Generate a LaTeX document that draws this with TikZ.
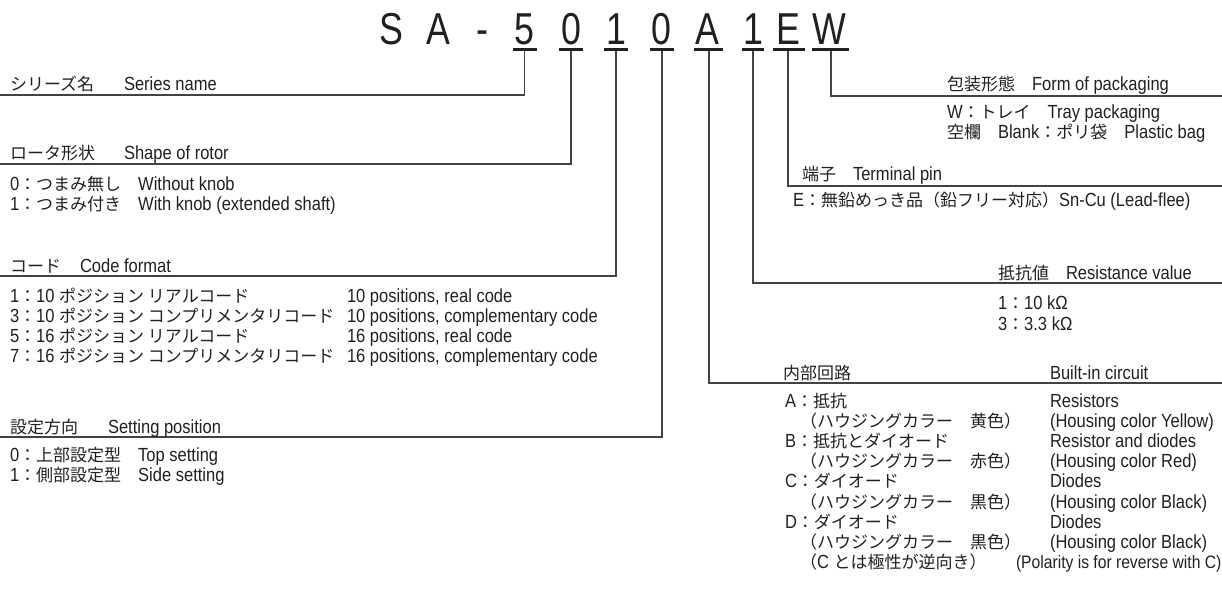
\documentclass[tikz,border=0pt]{standalone}
\usepackage{fontspec}
\setmainfont{Liberation Sans}[FakeStretch=0.87]
\newfontfamily\jpfont{Noto Sans CJK JP}
\newfontfamily\titlefont{Liberation Sans}[FakeStretch=0.8]
\definecolor{ink}{HTML}{231F20}
\newcommand\bodyfont{\fontsize{19pt}{21pt}\selectfont}
\newcommand\smallbody{\fontsize{18pt}{20pt}\selectfont}
\newcommand\jtxt[1]{{\jpfont\fontsize{17pt}{20pt}\selectfont #1}}
\begin{document}
\begin{tikzpicture}[x=1pt,y=-1pt,
  every node/.style={inner sep=0pt, outer sep=0pt, text=ink},
  tx/.style={anchor=base west, font=\bodyfont},
  tc/.style={anchor=base, font=\titlefont\fontsize{44.7pt}{46pt}\selectfont},
  ulbar/.style={rectangle, fill=ink, draw=none, minimum height=3pt, inner sep=0pt},
  conn/.style={draw=ink!85, line width=1.2pt},
]
\useasboundingbox (0,0) rectangle (1222,596);

% ---------- title ----------
\node[tc] (tS) at (391,45) {S};
\node[tc] (tA) at (438.5,45) {A};
\node[tc] (tD) at (482.5,45) {-};
\node[tc] (t5) at (524,45) {5};
\node[tc] (t0a) at (571,45) {0};
\node[tc] (t1a) at (616,45) {1};
\node[tc] (t0b) at (661.5,45) {0};
\node[tc] (tAb) at (707.5,45) {A};
\node[tc] (t1b) at (753,45) {1};
\node[tc] (tE) at (788,45) {E};
\node[tc] (tW) at (829.5,45) {W};

\node[ulbar, minimum width=24pt] (u5) at (525,50) {};
\node[ulbar, minimum width=24pt] (u0a) at (571,50) {};
\node[ulbar, minimum width=24pt] (u1a) at (616,50) {};
\node[ulbar, minimum width=24pt] (u0b) at (661.5,50) {};
\node[ulbar, minimum width=29pt] (uAb) at (708.5,50) {};
\node[ulbar, minimum width=22pt] (u1b) at (753,50) {};
\node[ulbar, minimum width=32pt] (uE) at (789,50) {};
\node[ulbar, minimum width=37pt] (uW) at (830.5,50) {};

% ---------- connector ends ----------
\coordinate (eS) at (0,95);
\coordinate (eR) at (0,164);
\coordinate (eC) at (0,276);
\coordinate (eP) at (0,437);
\coordinate (eW) at (1222,96);
\coordinate (eE) at (1222,186);
\coordinate (eV) at (1222,283);
\coordinate (eB) at (1222,383);

\draw[conn] ([xshift=-0.4pt]u5.south) |- (eS);
\draw[conn] (u0a.south) |- (eR);
\draw[conn] (u1a.south) |- (eC);
\draw[conn] ([xshift=0.5pt]u0b.south) |- (eP);
\draw[conn] ([xshift=0.5pt]uAb.south) |- (eB);
\draw[conn] (u1b.south) |- (eV);
\draw[conn] ([xshift=-1pt]uE.south) |- (eE);
\draw[conn] ([xshift=0.5pt]uW.south) |- (eW);

% ---------- left: series / rotor ----------
\node[tx] (hSj) at (10,91) {\jtxt{シリーズ名}};
\node[tx] (hSe) at (124,91) {Series name};
\node[tx] (hRj) at (10,160) {\jtxt{ロータ形状}};
\node[tx] (hRe) at (124,160) {Shape of rotor};
\node[tx] (r0) at (10,190) {0\jtxt{：つまみ無し　}Without knob};
\node[tx] (r1) at (10,210) {1\jtxt{：つまみ付き　}With knob (extended shaft)};

% ---------- code format ----------
\node[tx] (hCj) at (10,272) {\jtxt{コード}};
\node[tx] (hCe) at (80,272) {Code format};
\node[tx] (c1j) at (10,302) {1\jtxt{：}10 \jtxt{ポジション リアルコード}};
\node[tx] (c1e) at (347,302) {10 positions, real code};
\node[tx] (c3j) at (10,322) {3\jtxt{：}10 \jtxt{ポジション コンプリメンタリコード}};
\node[tx] (c3e) at (347,322) {10 positions, complementary code};
\node[tx] (c5j) at (10,342) {5\jtxt{：}16 \jtxt{ポジション リアルコード}};
\node[tx] (c5e) at (347,342) {16 positions, real code};
\node[tx] (c7j) at (10,362) {7\jtxt{：}16 \jtxt{ポジション コンプリメンタリコード}};
\node[tx] (c7e) at (347,362) {16 positions, complementary code};

% ---------- setting position ----------
\node[tx] (hPj) at (10,433) {\jtxt{設定方向}};
\node[tx] (hPe) at (108,433) {Setting position};
\node[tx] (p0) at (10,461) {0\jtxt{：上部設定型　}Top setting};
\node[tx] (p1) at (10,481) {1\jtxt{：側部設定型　}Side setting};

% ---------- packaging ----------
\node[tx] (hW) at (947,91) {\jtxt{包装形態　}Form of packaging};
\node[tx] (w1) at (947,119) {W\jtxt{：トレイ　}Tray packaging};
\node[tx] (w2) at (947,139) {\jtxt{空欄　}Blank\jtxt{：ポリ袋　}Plastic bag};

% ---------- terminal ----------
\node[tx] (hE) at (802,181) {\jtxt{端子　}Terminal pin};
\node[tx] (e1) at (793,206) {E\jtxt{：無鉛めっき品（鉛フリー対応）}Sn-Cu (Lead-flee)};

% ---------- resistance ----------
\node[tx] (hV) at (998,279) {\jtxt{抵抗値　}Resistance value};
\node[tx] (v1) at (998,309.5) {1\jtxt{：}10 kΩ};
\node[tx] (v3) at (998,330) {3\jtxt{：}3.3 kΩ};

% ---------- built-in circuit ----------
\node[tx] (hB) at (783,379) {\jtxt{内部回路}};
\node[tx] (hB2) at (1050,379) {Built-in circuit};
\node[tx] (bAj) at (785,407.5) {A\jtxt{：抵抗}};
\node[tx] (bAe) at (1050,407.5) {Resistors};
\node[tx] (bAhj) at (800,427.6) {\jtxt{（ハウジングカラー　黄色）}};
\node[tx] (bAhe) at (1050,427.6) {(Housing color Yellow)};
\node[tx] (bBj) at (785,447.7) {B\jtxt{：抵抗とダイオード}};
\node[tx] (bBe) at (1050,447.7) {Resistor and diodes};
\node[tx] (bBhj) at (800,467.8) {\jtxt{（ハウジングカラー　赤色）}};
\node[tx] (bBhe) at (1050,467.8) {(Housing color Red)};
\node[tx] (bCj) at (785,487.9) {C\jtxt{：ダイオード}};
\node[tx] (bCe) at (1050,487.9) {Diodes};
\node[tx] (bChj) at (800,508) {\jtxt{（ハウジングカラー　黒色）}};
\node[tx] (bChe) at (1050,508) {(Housing color Black)};
\node[tx] (bDj) at (785,528.1) {D\jtxt{：ダイオード}};
\node[tx] (bDe) at (1050,528.1) {Diodes};
\node[tx] (bDhj) at (800,548.2) {\jtxt{（ハウジングカラー　黒色）}};
\node[tx] (bDhe) at (1050,548.2) {(Housing color Black)};
\node[tx] (bNj) at (800,568.3) {\jtxt{（}C \jtxt{とは極性が逆向き）}};
\node[tx, font=\smallbody] (bNe) at (1016,568.3) {(Polarity is for reverse with C)};
\end{tikzpicture}
\end{document}
